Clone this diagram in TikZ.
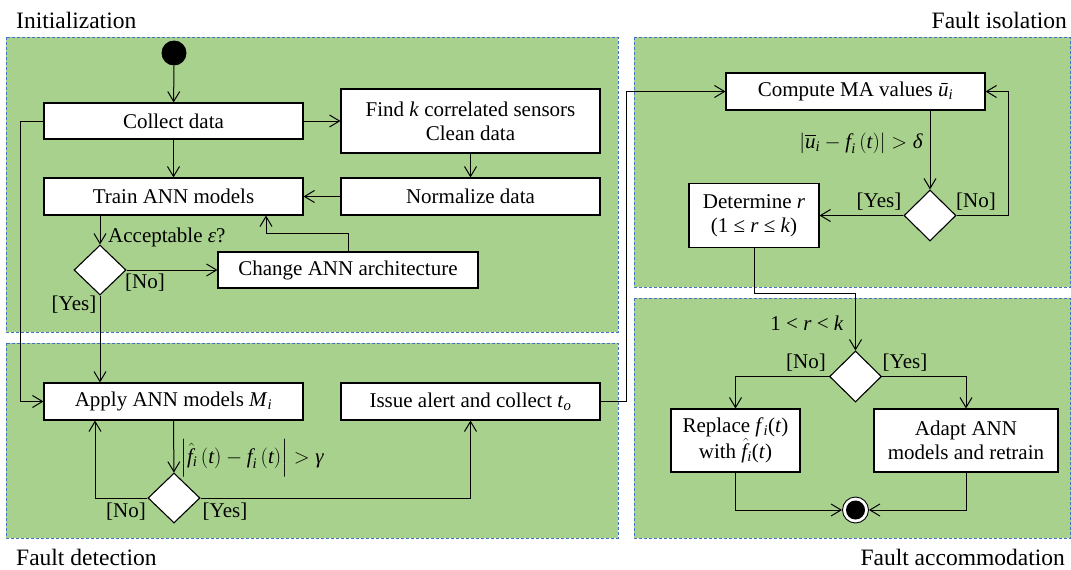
\documentclass[tikz,border=0pt]{standalone}
\usepackage{amsmath}
\usepackage{fontspec}
\setmainfont{Liberation Serif}
\usetikzlibrary{arrows.meta,shapes.geometric,calc}
\definecolor{panelgreen}{HTML}{A9D18E}
\definecolor{panelblue}{HTML}{4472C4}
\newcommand\vi[1]{\textit{#1}}
% hat over an italic f, nudged to sit over the slanted stem
\newcommand\fhat{\hat{\vi{f}\kern3pt}\kern-3pt}

\begin{document}
\begin{tikzpicture}[x=1pt,y=-1pt,
  every node/.style={font=\fontsize{21}{24}\selectfont},
  panel/.style={fill=panelgreen, draw=panelblue, dash pattern=on 3pt off 2pt, line width=1pt},
  paneltitle/.style={font=\fontsize{23.5}{26}\selectfont, inner sep=0pt},
  act/.style={draw=black, fill=white, line width=1.1pt, align=center, inner sep=0pt},
  choice/.style={diamond, draw=black, fill=white, line width=1.1pt, minimum width=52pt, minimum height=50pt, inner sep=0pt},
  flow/.style={line width=1pt, -{Straight Barb[length=10pt,width=12pt]}},
  link/.style={line width=1pt},
  guard/.style={inner sep=0pt}
]
\useasboundingbox (0,0) rectangle (1071,570);

% swim-lane panels
\path[panel] (6,37) rectangle (618,332);
\path[panel] (6,343) rectangle (618,538);
\path[panel] (634,37) rectangle (1070.5,287);
\path[panel] (634,298) rectangle (1070.5,538);

\node[paneltitle, anchor=west] (tInit) at (16,20) {Initialization};
\node[paneltitle, anchor=west] (tDet) at (16,557) {Fault detection};
\node[paneltitle, anchor=east] (tIso) at (1067,20) {Fault isolation};
\node[paneltitle, anchor=east] (tAcc) at (1065,557) {Fault accommodation};

% initialization
\node[circle, fill=black, minimum size=25pt, inner sep=0pt] (start) at (174,53) {};
\node[act, minimum width=259pt, minimum height=36pt] (collect) at (173.5,121) {Collect data};
\node[act, minimum width=259pt, minimum height=64pt] (find) at (470.5,121) {Find \vi{k} correlated sensors\\Clean data};
\node[act, minimum width=259pt, minimum height=37pt] (train) at (173.5,196.5) {Train ANN models};
\node[act, minimum width=259pt, minimum height=37pt] (normalize) at (470.5,196.5) {Normalize data};
\node[choice] (dec1) at (100,270) {};
\node[act, minimum width=260pt, minimum height=36pt] (change) at (348,270) {Change ANN architecture};

% fault detection
\node[act, minimum width=259pt, minimum height=37pt] (apply) at (173.5,401.5) {Apply ANN models \vi{M}\textsubscript{\vi{i}}};
\node[act, minimum width=259pt, minimum height=37pt] (issue) at (470.5,401.5) {Issue alert and collect \vi{t}\textsubscript{\vi{o}}};
\node[choice] (dec2) at (174,498) {};

% fault isolation
\node[act, minimum width=259pt, minimum height=37pt] (compute) at (855.5,91.5) {Compute MA values \vi{ū}\textsubscript{\vi{i}}};
\node[choice, minimum height=51pt] (dec3) at (930,215.5) {};
\node[act, minimum width=130pt, minimum height=64pt] (determine) at (754,215.5) {Determine \vi{r}\\(1 ≤ \vi{r} ≤ \vi{k})};

% fault accommodation
\node[choice, minimum height=51pt] (dec4) at (855.5,376.5) {};
\node[act, minimum width=129pt, minimum height=63pt] (replace) at (735.5,440.5) {Replace \vi{f}\textsubscript{\vi{i}}(\vi{t})\\with $\fhat$\textsubscript{\vi{i}}(\vi{t})};
\node[act, minimum width=184pt, minimum height=63pt] (adapt) at (966,440.5) {Adapt ANN\\models and retrain};
\node[circle, draw=black, fill=white, line width=0.9pt, minimum size=26pt, inner sep=0pt] (end) at (855.5,510) {};
\node[circle, fill=black, minimum size=19pt, inner sep=0pt] (endcore) at (end) {};

% routing points
\coordinate (fb) at (266,233);
\coordinate (lft) at (20,121);
\coordinate (nox) at (95,498);
\coordinate (rgt) at (626,401.5);
\coordinate (loop) at (1008,215.5);
\coordinate (jog) at (754,293);

% initialization flow
\draw[flow] (start) -- (collect);
\draw[flow] (collect) -- (find);
\draw[flow] (collect) -- (train);
\draw[flow] (find) -- (normalize);
\draw[flow] (normalize) -- (train);
\draw[flow] (train.south -| dec1.north) -- (dec1.north);
\draw[flow] (dec1.east) -- (change.west);
\draw[flow] (change.north) |- (fb) -- (fb |- train.south);
\draw[flow] (dec1.south) -- (dec1.south |- apply.north);
\draw[flow] (collect.west) -- (lft) -- (lft |- apply.west) -- (apply.west);

\node[guard, anchor=west] (qAcc) at (108,237) {Acceptable \vi{ε}?};
\node[guard] (gNo1) at (145,283) {[No]};
\node[guard] (gYes1) at (74,305) {[Yes]};

% detection flow
\draw[flow] (apply) -- (dec2);
\draw[flow] (dec2.west) -- (nox) -- (nox |- apply.south);
\draw[flow] (dec2.east) -| (issue.south);
\draw[flow] (issue.east) -- (rgt) -- (rgt |- compute.west) -- (compute.west);

\node[guard, anchor=west] (cGam) at (180,458) {$\left|\fhat_{\vi{i}}\left(\vi{t}\right)-\vi{f}_{\vi{i}}\left(\vi{t}\right)\right|>\vi{γ}$};
\node[guard] (gNo2) at (126,512) {[No]};
\node[guard] (gYes2) at (225,512) {[Yes]};

% isolation flow
\draw[flow] (compute.south -| dec3.north) -- (dec3.north);
\draw[flow] (dec3.east) -- (loop) -- (loop |- compute.east) -- (compute.east);
\draw[flow] (dec3.west) -- (determine.east);
\draw[flow] (determine.south) -- (jog) -| (dec4.north);

\node[guard] (cDel) at (861,143) {$\left|\overline{\vi{u}}_{\vi{i}}-\vi{f}_{\vi{i}}\left(\vi{t}\right)\right|>\vi{δ}$};
\node[guard] (gYes3) at (879,202) {[Yes]};
\node[guard] (gNo3) at (976,202) {[No]};

% accommodation flow
\node[guard] (cRng) at (807,323) {1 < \vi{r} < \vi{k}};
\draw[flow] (dec4.west) -| (replace.north);
\draw[flow] (dec4.east) -| (adapt.north);
\draw[flow] (replace.south) |- (end.west);
\draw[flow] (adapt.south) |- (end.east);

\node[guard] (gNo4) at (806,363) {[No]};
\node[guard] (gYes4) at (905,363) {[Yes]};
\end{tikzpicture}
\end{document}
